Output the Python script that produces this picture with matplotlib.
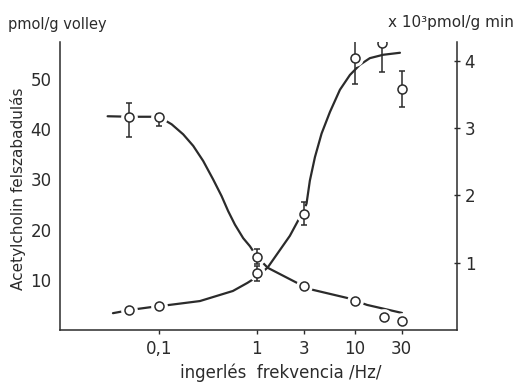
import numpy as np
import matplotlib
matplotlib.use("Agg")
import matplotlib.pyplot as plt

# measured points: ACh release per volley (left axis)
freq_volley = [0.05, 0.1, 1, 3, 10, 20, 30]
per_volley = [42.5, 42.5, 14.6, 8.8, 5.8, 2.6, 1.8]
per_volley_err_lo = [4.0, 1.8, 1.5, 0, 0, 0, 0]
per_volley_err_hi = [2.7, 0.6, 1.5, 0, 0, 0, 0]

# measured points: ACh release per minute, x10^3 (right axis)
freq_rate = [0.05, 0.1, 1, 3, 10, 19, 30]
per_min = [0.30, 0.36, 0.84, 1.73, 4.04, 4.27, 3.58]
per_min_err_lo = [0, 0, 0.11, 0.17, 0.39, 0.43, 0.27]
per_min_err_hi = [0, 0, 0.11, 0.17, 0.33, 0, 0.27]

# hand-drawn curves
volley_curve_f = [0.03, 0.052, 0.1, 0.135, 0.177, 0.224, 0.283, 0.358, 0.436, 0.509,
                  0.597, 0.725, 0.849, 1.0, 1.29, 2.56, 2.94, 3.73, 8.28, 10.2, 13.3, 30.2]
volley_curve = [42.6, 42.5, 42.5, 41.0, 39.0, 36.7, 33.7, 30.0, 26.7, 23.7,
                21.0, 18.3, 16.7, 14.6, 12.4, 9.4, 8.8, 8.0, 6.4, 5.8, 5.0, 3.4]
rate_curve_f = [0.034, 0.052, 0.105, 0.124, 0.262, 0.569, 0.8, 1.0, 1.29, 2.17, 2.64,
                2.94, 3.21, 3.47, 3.91, 4.57, 5.56, 7.03, 8.89, 11.2, 14.2, 19.4, 28.8]
rate_curve = [0.25, 0.30, 0.36, 0.37, 0.43, 0.58, 0.70, 0.79, 0.93, 1.40, 1.63,
              1.73, 1.88, 2.22, 2.57, 2.92, 3.24, 3.57, 3.79, 3.94, 4.04, 4.09, 4.12]

xticks = [0.1, 1, 3, 10, 30]
xticklabels = ["0,1", "1", "3", "10", "30"]
left_ticks = [10, 20, 30, 40, 50]
right_ticks = [1, 2, 3, 4]

ink = "#2b2b2b"
plt.rcParams["font.family"] = ["DejaVu Sans"]
plt.rcParams["font.size"] = 12

fig = plt.figure(figsize=(5.17, 3.83), dpi=100)
ax = fig.add_axes([60 / 517, 1 - 330 / 383, 397 / 517, 288 / 383])
ax2 = ax.twinx()


def draw_series(a, fx, fy, px, py, lo, hi):
    a.plot(fx, fy, color=ink, lw=1.6, zorder=1, solid_capstyle="round",
           solid_joinstyle="round")
    a.plot(px, py, "o", ms=11, mfc="white", mec="white", zorder=2)
    lo = np.array(lo)
    hi = np.array(hi)
    m = (lo + hi) > 0
    a.errorbar(np.array(px)[m], np.array(py)[m], yerr=[lo[m], hi[m]], fmt="none",
               ecolor=ink, elinewidth=1.1, capsize=2.5, capthick=1.1, zorder=3)
    a.plot(px, py, "o", ms=6.5, mfc="white", mec=ink, mew=1.1, zorder=4)


draw_series(ax, volley_curve_f, volley_curve, freq_volley, per_volley,
            per_volley_err_lo, per_volley_err_hi)
draw_series(ax2, rate_curve_f, rate_curve, freq_rate, per_min,
            per_min_err_lo, per_min_err_hi)

ax.set_xscale("log")
ax.set_xlim(0.0098, 110)
ax.set_ylim(0, 57.4)
ax2.set_ylim(0, 4.28)

ax.set_xticks(xticks)
ax.set_xticklabels(xticklabels)
ax.xaxis.set_minor_locator(matplotlib.ticker.NullLocator())
ax.set_yticks(left_ticks)
ax2.set_yticks(right_ticks)

for s in ["top", "right"]:
    ax.spines[s].set_visible(False)
for s in ["top", "left", "bottom"]:
    ax2.spines[s].set_visible(False)
for s in ["left", "bottom"]:
    ax.spines[s].set_color(ink)
    ax.spines[s].set_linewidth(1.1)
ax2.spines["right"].set_color(ink)
ax2.spines["right"].set_linewidth(1.1)

ax.tick_params(axis="x", length=3, width=1, color=ink, labelcolor=ink, pad=4, labelsize=12)
ax.tick_params(axis="y", length=0, labelcolor=ink, pad=6, labelsize=12)
ax2.tick_params(axis="y", direction="inout", length=5, width=1, color=ink,
                labelcolor=ink, pad=3, labelsize=12)

fig.text(8 / 517, 1 - 25 / 383, "pmol/g volley", ha="left", va="center",
         color=ink, fontsize=10.5)
fig.text(514 / 517, 1 - 23 / 383, "x 10\u00b3pmol/g min", ha="right", va="center",
         color=ink, fontsize=11)
fig.text(18 / 517, 1 - 189 / 383, "Acetylcholin felszabadulás", rotation=90,
         ha="center", va="center", color=ink, fontsize=11)
fig.text(281 / 517, 1 - 373 / 383, "ingerlés  frekvencia /Hz/", ha="center",
         va="center", color=ink, fontsize=12)

fig.savefig("out.png", dpi=100, facecolor="white")
